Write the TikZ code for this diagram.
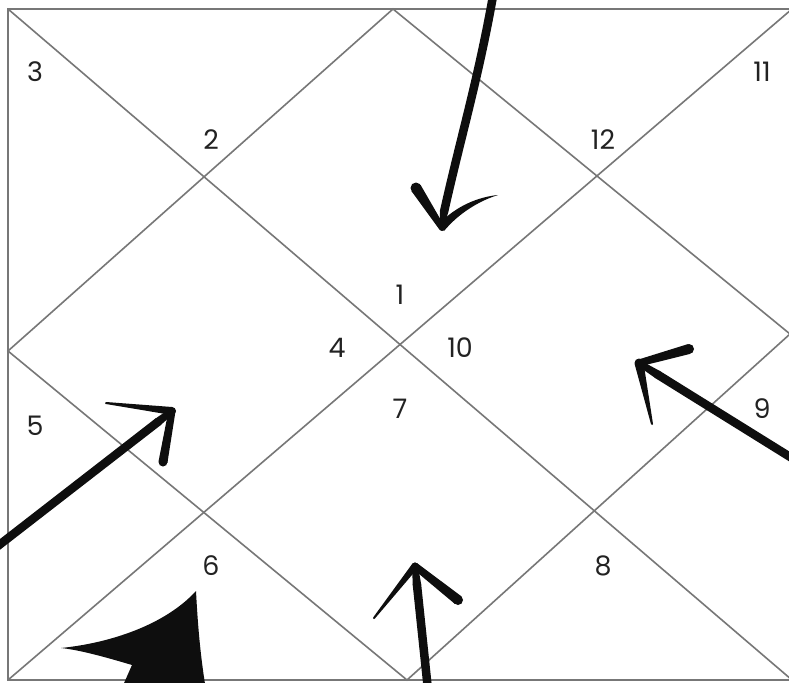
\documentclass[tikz,border=0pt]{standalone}
\usepackage{fontspec}
\setmainfont{Poppins}
\usetikzlibrary{calc}
\definecolor{gridc}{HTML}{777777}
\definecolor{ink}{HTML}{0E0E0E}
\definecolor{txt}{HTML}{222222}
\newcommand\brushstroke[4]{%
  \fill[ink] ($(#1)!#3!90:(#2)$) -- ($(#2)!#4!-90:(#1)$) -- ($(#2)!#4!90:(#1)$) -- ($(#1)!#3!-90:(#2)$) -- cycle;
  \fill[ink] (#1) circle (#3);
  \fill[ink] (#2) circle (#4);}
\tikzset{
  gridline/.style={draw=gridc, line width=1.6bp},
  house/.style={font=\fontsize{27}{29}\selectfont, text=txt, inner sep=0pt},
  shaft/.style={draw=ink, line width=8.5bp, line cap=round}
}
\begin{document}
\begin{tikzpicture}[x=1bp,y=-1bp]
\useasboundingbox (0,0) rectangle (789,683);
\fill[white] (0,0) rectangle (789,683);
% frame corners and midpoints
\coordinate (TL) at (8,9);
\coordinate (TR) at (792,9);
\coordinate (BL) at (8,680);
\coordinate (BR) at (792,680);
\coordinate (TM) at (393,9);
\coordinate (LM) at (8,351);
\coordinate (BM) at (407,680);
\coordinate (RM) at (790,334);
\draw[gridline] (TR) -- (TL) -- (BL) -- (BR);
\draw[gridline] (TL) -- (BR);
\draw[gridline] (TR) -- (BL);
\draw[gridline] (TM) -- (LM) -- (BM) -- (RM) -- cycle;
% house numbers
\node[house] (h3) at (35,72) {3};
\node[house] (h2) at (211,140) {2};
\node[house] (h12) at (603,140) {12};
\node[house] (h11) at (762,72) {11};
\node[house] (h1) at (400,295) {1};
\node[house] (h4) at (337,348) {4};
\node[house] (h10) at (460,348) {10};
\node[house] (h7) at (400,409) {7};
\node[house] (h5) at (35,426) {5};
\node[house] (h9) at (762,409) {9};
\node[house] (h6) at (211,566) {6};
\node[house] (h8) at (603,566) {8};
% arrow 1 (top)
\coordinate (a1s) at (493,-4);
\coordinate (a1t) at (442,228);
\coordinate (a1l) at (416,188);
\coordinate (a1r) at (498,195);
\draw[shaft] (a1s) .. controls (478,80) and (460,140) .. ($(a1t)+(2,-16)$);
\brushstroke{$(a1t)+(2,-16)$}{a1t}{4bp}{2.5bp}
\brushstroke{a1l}{a1t}{5.5bp}{3bp}
\fill[ink] ($(a1t)+(-3,-4)$) .. controls (456,206) and (478,197) .. (a1r)
  .. controls (479,201) and (459,213) .. ($(a1t)+(2,3)$) -- cycle;
% arrow 2 (right)
\coordinate (a2s) at (795,460);
\coordinate (a2t) at (639,363);
\coordinate (a2u) at (689,349);
\coordinate (a2d) at (652,424);
\draw[shaft] (a2s) -- ($(a2t)!0.12!(a2s)$);
\brushstroke{$(a2t)!0.12!(a2s)$}{a2t}{4.2bp}{3bp}
\brushstroke{a2t}{a2u}{3.5bp}{5bp}
\brushstroke{a2t}{a2d}{4.5bp}{1bp}
% arrow 3 (left)
\coordinate (a3s) at (-6,549);
\coordinate (a3t) at (172,411);
\coordinate (a3u) at (106,403);
\coordinate (a3d) at (163,462);
\draw[shaft] (a3s) -- ($(a3t)!0.08!(a3s)$);
\brushstroke{$(a3t)!0.08!(a3s)$}{a3t}{4.2bp}{3bp}
\brushstroke{a3u}{a3t}{1bp}{4bp}
\brushstroke{a3t}{a3d}{3.5bp}{4.5bp}
% arrow 4 (bottom)
\coordinate (a4s) at (428,690);
\coordinate (a4t) at (415,566);
\coordinate (a4l) at (374,618);
\coordinate (a4r) at (458,600);
\draw[shaft] (a4s) -- ($(a4t)!0.15!(a4s)$);
\brushstroke{$(a4t)!0.15!(a4s)$}{a4t}{4.2bp}{3bp}
\brushstroke{a4t}{a4l}{3.5bp}{1bp}
\brushstroke{a4t}{a4r}{3.5bp}{5bp}
% big filled arrowhead (bottom left)
\coordinate (bfL) at (61,648);
\coordinate (bfT) at (196,591);
\fill[ink] (bfL) .. controls (110,643) and (165,625) .. (bfT)
  .. controls (198,630) and (201,660) .. (206,690)
  -- (121,690) -- (132,665)
  .. controls (105,657) and (80,650) .. (bfL) -- cycle;
\end{tikzpicture}
\end{document}
